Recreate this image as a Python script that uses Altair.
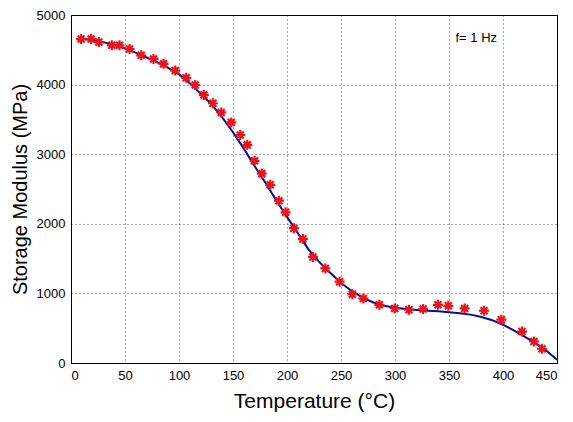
import altair as alt
import pandas as pd

# Measured points (red asterisks)
pt_t = [9.4, 18.7, 25.8, 37.8, 44.9, 54.2, 65.0, 76.4, 85.7, 96.5, 106.7, 115.0,
        123.0, 131.4, 139.1, 148.4, 156.7, 163.2, 170.0, 176.7, 184.5, 192.5,
        198.7, 206.4, 214.7, 224.0, 235.5, 248.7, 260.5, 270.7, 285.5,
        299.7, 312.9, 326.0, 339.8, 349.4, 364.5, 382.4, 398.5, 417.6, 428.7, 436.1]
pt_v = [4654, 4654, 4611, 4564, 4564, 4511, 4421, 4369, 4298, 4202, 4098, 3994,
        3852, 3732, 3600, 3457, 3276, 3134, 2905, 2721, 2560, 2332,
        2165, 1937, 1781, 1524, 1359, 1168, 989, 926, 836,
        784, 765, 775, 836, 822, 784, 751, 622, 452, 309, 205]

# Fitted curve (blue line)
ln_t = [8, 20, 30, 40, 50, 60, 70, 80, 90, 100, 110, 120, 130, 140, 150, 160,
        170, 180, 190, 200, 210, 220, 230, 240, 250, 260, 270, 280, 290, 300,
        310, 320, 330, 340, 350, 360, 370, 380, 390, 400, 410, 420, 430, 440, 450]
ln_v = [4660, 4640, 4610, 4570, 4520, 4460, 4390, 4320, 4240, 4150, 4020, 3870,
        3720, 3530, 3315, 3080, 2830, 2590, 2340, 2100, 1866, 1630, 1449, 1296,
        1150, 1035, 940, 870, 822, 795, 775, 762, 752, 742, 730, 715, 695, 662,
        615, 550, 470, 380, 285, 180, 45]

note_text = ["f= 1 Hz"]
note_t = [356]
note_v = [4668]

pts = pd.DataFrame({"t": pt_t, "v": pt_v})
lns = pd.DataFrame({"t": ln_t, "v": ln_v})
note = pd.DataFrame({"t": note_t, "v": note_v, "s": note_text})

FONT = "Liberation Sans"

xs = alt.Scale(domain=[0, 450], nice=False, zero=False)
ys = alt.Scale(domain=[0, 5000], nice=False)

xax = alt.Axis(values=list(range(0, 451, 50)), title="Temperature (°C)", format="d",
               titleFontSize=21, titleFont=FONT, titleFontWeight="normal",
               labelFontSize=13, labelFont=FONT, labelPadding=6, ticks=False,
               titlePadding=8, grid=True)
yax = alt.Axis(values=list(range(0, 5001, 500)), title="Storage Modulus (MPa)", format="d",
               titleFontSize=20, titleFont=FONT, titleFontWeight="normal",
               labelFontSize=13, labelFont=FONT, labelPadding=6, ticks=False,
               titlePadding=6, grid=True)

line = alt.Chart(lns).mark_line(color="#0a0a9a", strokeWidth=2).encode(
    x=alt.X("t:Q", scale=xs, axis=xax),
    y=alt.Y("v:Q", scale=ys, axis=yax),
)

star = "M-1,0L1,0M0,-1L0,1M-0.7,-0.7L0.7,0.7M-0.7,0.7L0.7,-0.7"
points = alt.Chart(pts).mark_point(shape=star, filled=False, color="#e8141c",
                                   strokeWidth=2.2, size=100, opacity=1).encode(
    x="t:Q", y="v:Q")

text = alt.Chart(note).mark_text(align="left", baseline="middle", fontSize=13,
                                 font=FONT, color="black").encode(
    x="t:Q", y="v:Q", text="s:N")

chart = alt.layer(line, points, text).properties(
    width=486, height=348,
    autosize=alt.AutoSizeParams(type="none"),
    padding={"left": 63, "top": 7, "right": 8, "bottom": 50},
).configure_view(stroke="black", strokeWidth=1).configure_axis(
    domainColor="black", labelColor="black", titleColor="black",
    gridColor="black", gridDash=[1, 3], gridOpacity=0.7, gridWidth=1,
)

chart.save("out.html", embed_options={"renderer": "svg", "actions": False})
